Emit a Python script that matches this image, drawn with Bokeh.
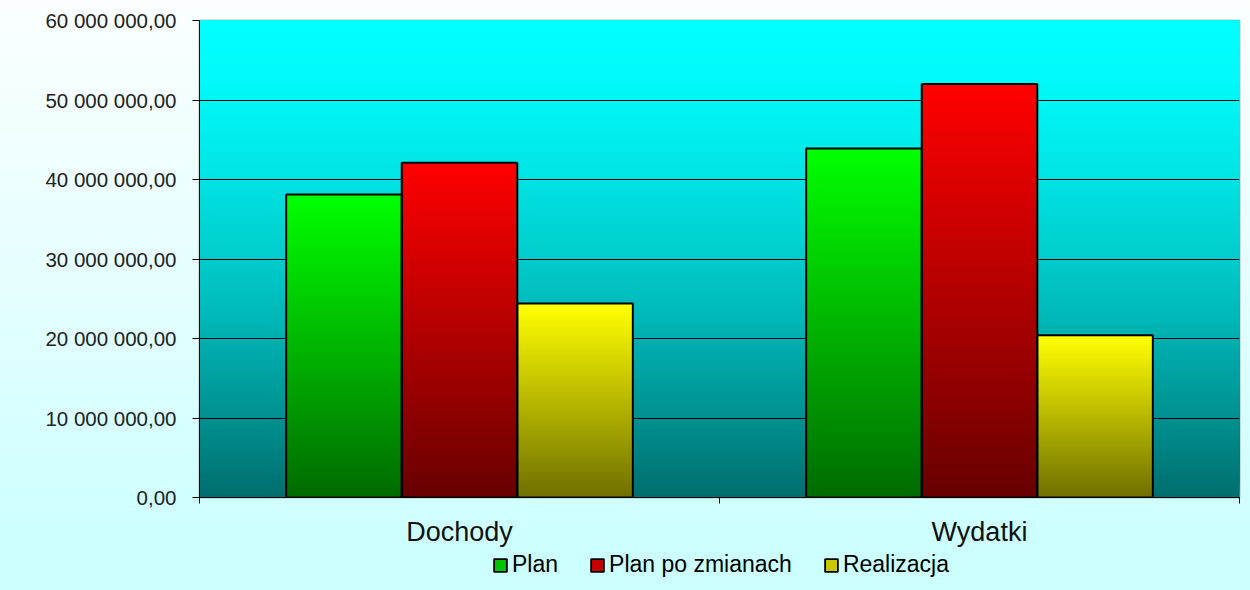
import numpy as np
from bokeh.plotting import figure
from bokeh.layouts import column
from bokeh.models import Range1d, FixedTicker, Legend, LegendItem
from bokeh.embed import file_html
from bokeh.resources import INLINE

# ---- data ----
categories = ["Dochody", "Wydatki"]
series_names = ["Plan", "Plan po zmianach", "Realizacja"]
plan = [38_100_000, 43_900_000]
plan_po_zmianach = [42_100_000, 52_000_000]
realizacja = [24_400_000, 20_400_000]
y_ticks = [0, 10_000_000, 20_000_000, 30_000_000, 40_000_000, 50_000_000, 60_000_000]
y_tick_labels = ["0,00", "10 000 000,00", "20 000 000,00", "30 000 000,00",
                 "40 000 000,00", "50 000 000,00", "60 000 000,00"]

series_values = [plan, plan_po_zmianach, realizacja]
top_rgb = [(0, 255, 0), (255, 0, 0), (255, 255, 0)]
bottom_rgb = [(0, 108, 0), (104, 0, 0), (112, 112, 0)]
legend_colors = ["#00c400", "#c40000", "#c8c800"]


def hexc(rgb):
    return "#%02x%02x%02x" % tuple(int(round(max(0, min(255, c)))) for c in rgb)


def lerp(a, b, t):
    return tuple(a[i] + (b[i] - a[i]) * t for i in range(3))


ncat = len(categories)
p = figure(frame_width=1040, frame_height=477, output_backend="svg", toolbar_location=None,
           x_range=Range1d(0, ncat), y_range=Range1d(y_ticks[0], y_ticks[-1]),
           min_border_left=199, min_border_right=11, min_border_top=20,
           min_border_bottom=48)
p.styles = {"background": "linear-gradient(to bottom, #fafffe 0%, #eafeff 40%, #ccffff 100%)"}
p.border_fill_color = None
p.background_fill_color = None
p.outline_line_color = "#808080"
p.outline_line_width = 1.5

# ---- plot-area gradient background ----
nbg = 140
ymin, ymax = p.y_range.start, p.y_range.end
bg_bottom, bg_col = [], []
for k in range(nbg):
    frac = k / nbg  # 0 at bottom
    t = 1 - frac   # 0 at top, 1 at bottom
    lvl = 255 - 145 * t ** 1.5
    bg_bottom.append(ymin + (ymax - ymin) * frac)
    bg_col.append(hexc((0, lvl, lvl)))
p.quad(left=[p.x_range.start] * nbg, right=[p.x_range.end] * nbg,
       bottom=bg_bottom, top=[ymax] * nbg, fill_color=bg_col,
       line_color=None, level="image")

# ---- gradient bars ----
bw = 1 / 4.5
nsl = 90
L, R, B, T, C = [], [], [], [], []
oL, oR, oT = [], [], []
for i in range(ncat):
    for j, vals in enumerate(series_values):
        v = vals[i]
        cx = i + 0.5 + (j - 1) * bw
        l, r = cx - bw / 2, cx + bw / 2
        for k in range(nsl):
            f = k / (nsl - 1)
            L.append(l); R.append(r)
            B.append(v * k / nsl); T.append(v)
            C.append(hexc(lerp(bottom_rgb[j], top_rgb[j], f)))
        oL.append(l); oR.append(r); oT.append(v)
p.quad(left=L, right=R, bottom=B, top=T, fill_color=C, line_color=None)
p.quad(left=oL, right=oR, bottom=[0] * len(oT), top=oT, fill_color=None,
       line_color="black", line_width=2)

# ---- axes ----
p.yaxis.ticker = FixedTicker(ticks=y_ticks)
p.yaxis.major_label_overrides = {t: lab for t, lab in zip(y_ticks, y_tick_labels)}
p.yaxis.major_label_text_font = "Liberation Sans"
p.yaxis.major_label_text_font_size = "20.5px"
p.yaxis.major_label_text_color = "#222222"
p.yaxis.major_tick_out = 7
p.yaxis.major_tick_in = 0
p.yaxis.major_label_standoff = 16
p.yaxis.axis_line_color = "black"
p.yaxis.major_tick_line_color = "black"

cat_pos = [i + 0.5 for i in range(ncat)]
p.xaxis.ticker = FixedTicker(ticks=cat_pos, minor_ticks=list(range(ncat + 1)))
p.xaxis.major_label_overrides = {c: n for c, n in zip(cat_pos, categories)}
p.xaxis.major_label_text_font = "Liberation Sans"
p.xaxis.major_label_text_font_size = "27px"
p.xaxis.major_label_text_color = "#111111"
p.xaxis.major_tick_out = 0
p.xaxis.major_tick_in = 0
p.xaxis.minor_tick_out = 6
p.xaxis.minor_tick_in = 0
p.xaxis.minor_tick_line_color = "black"
p.xaxis.major_label_standoff = 13
p.xaxis.axis_line_color = "black"

p.xgrid.visible = False
p.ygrid.ticker = FixedTicker(ticks=y_ticks[1:-1])
p.ygrid.grid_line_color = "black"
p.ygrid.grid_line_width = 1

# ---- legend strip ----
p2 = figure(width=1250, height=41, output_backend="svg", toolbar_location=None,
            x_range=Range1d(0, 1), y_range=Range1d(0, 1),
            x_axis_location=None, y_axis_location=None, min_border=0)
p2.title.visible = False
p2.grid.visible = False
p2.outline_line_color = None
p2.border_fill_color = None
p2.background_fill_color = None
p2.styles = {"background": "#ccffff"}
nan = np.array([np.nan])
items = []
for j, name in enumerate(series_names):
    r = p2.quad(left=nan, right=nan, bottom=nan, top=nan, fill_color=legend_colors[j],
                line_color="black", line_width=1.8)
    items.append(LegendItem(label=name, renderers=[r]))
legend = Legend(items=items, orientation="horizontal", location=(289, 8),
                spacing=31, label_standoff=4, glyph_width=16, glyph_height=16,
                margin=0, padding=4, background_fill_alpha=0, border_line_alpha=0,
                label_text_font_size="23px", label_text_font="Liberation Sans",
                label_text_color="black")
p2.add_layout(legend)

layout = column(p, p2, spacing=0)
open("out.html", "w").write(file_html(layout, INLINE))
